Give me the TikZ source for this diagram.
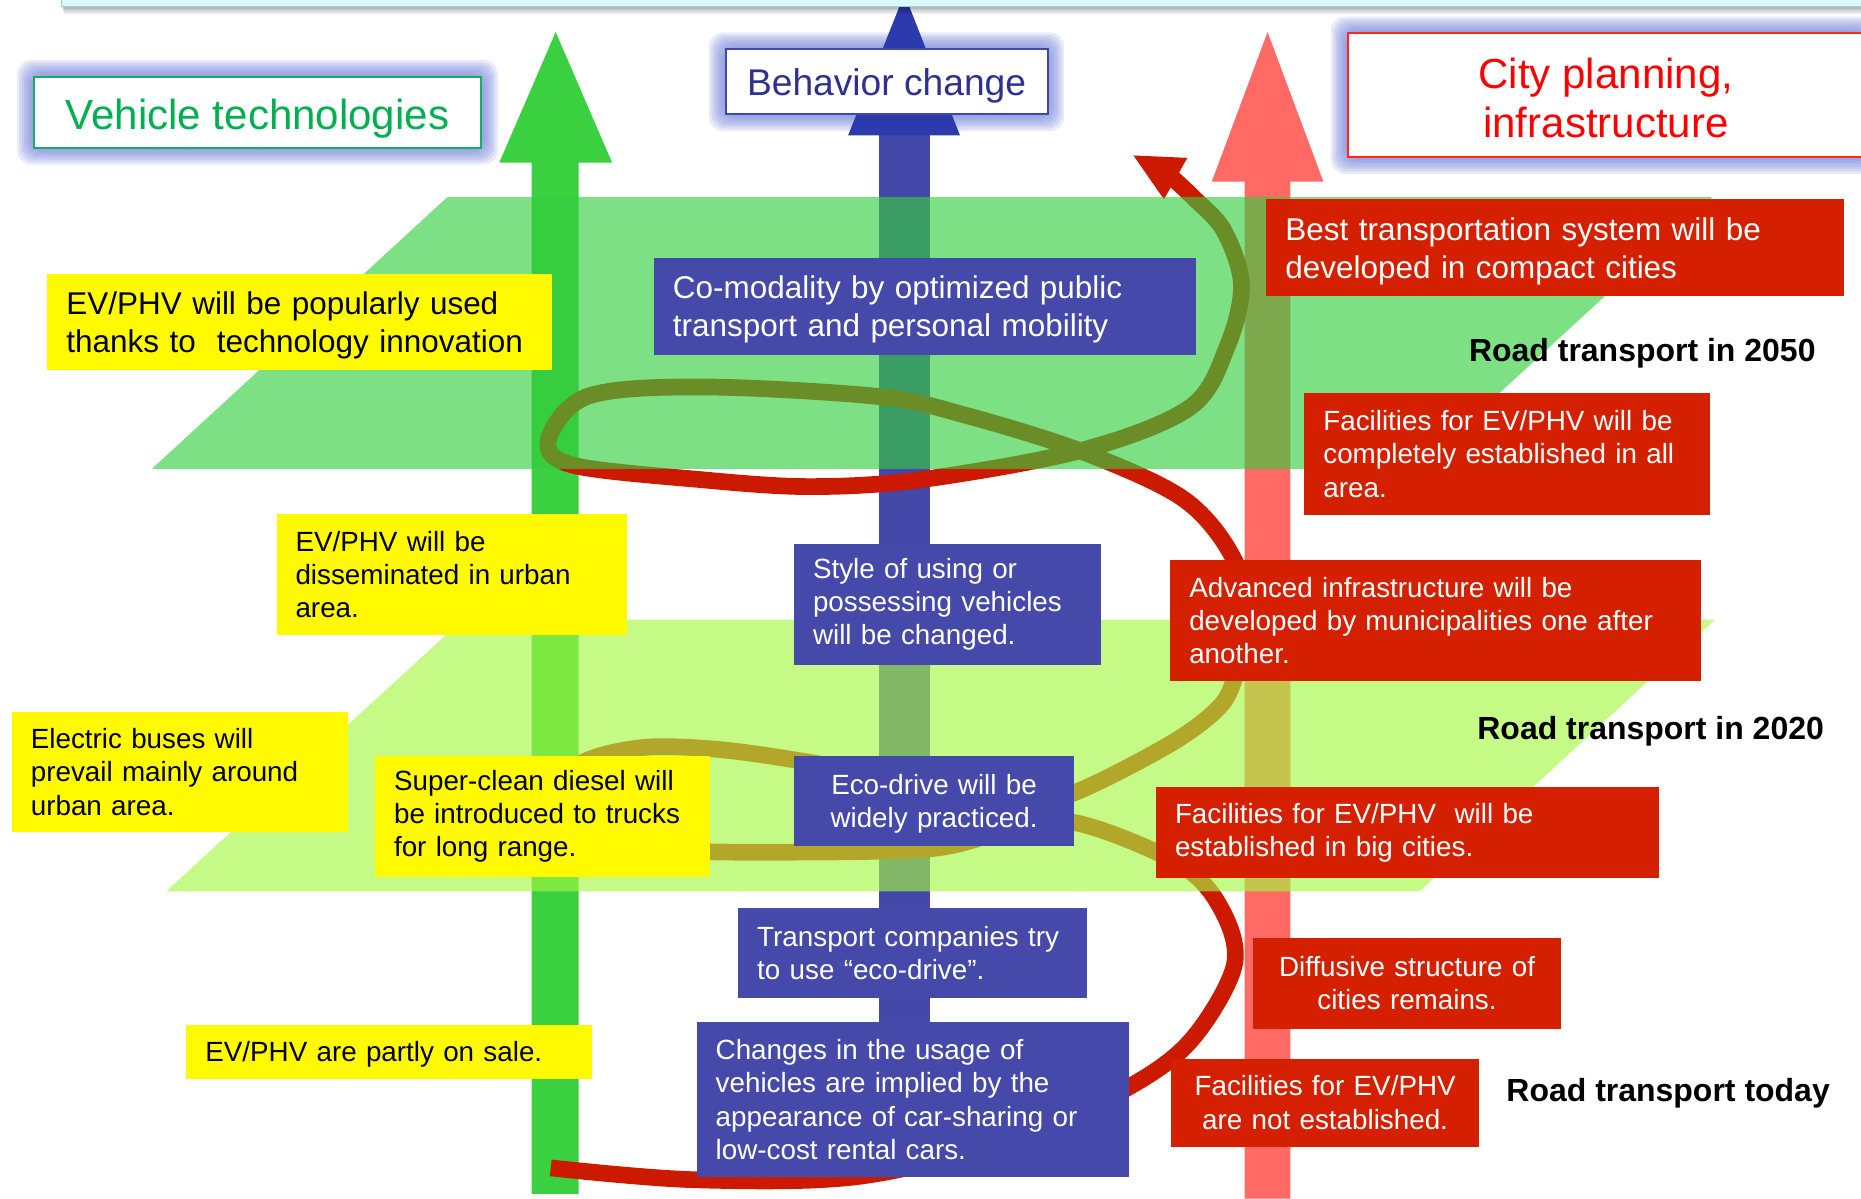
\documentclass[tikz,border=0pt]{standalone}
\usepackage{fontspec}
\setmainfont{Liberation Sans}
\usetikzlibrary{calc}

\definecolor{vehgreen}{RGB}{58,208,64}
\definecolor{behblue}{RGB}{68,72,168}
\definecolor{behhead}{RGB}{43,59,173}
\definecolor{citypink}{RGB}{255,106,101}
\definecolor{evyellow}{RGB}{255,250,0}
\definecolor{useblue}{RGB}{68,73,170}
\definecolor{cityboxred}{RGB}{213,32,0}
\definecolor{spiralred}{RGB}{204,26,0}
\definecolor{plane50}{RGB}{52,206,63}
\definecolor{plane20}{RGB}{165,247,68}
\definecolor{glowblue}{RGB}{110,125,215}
\definecolor{bandcyan}{RGB}{216,250,252}
\definecolor{bandedge}{RGB}{160,210,212}
\definecolor{vehtext}{RGB}{0,176,80}
\definecolor{vehedge}{RGB}{20,176,96}
\definecolor{behtext}{RGB}{46,49,146}
\definecolor{behedge}{RGB}{63,72,170}
\definecolor{citytext}{RGB}{255,0,0}
\definecolor{cityedge}{RGB}{255,40,20}

\newcommand{\fbig}{\fontsize{18.1}{21.9}\selectfont}
\newcommand{\fsmall}{\fontsize{16}{19.1}\selectfont}

\pgfdeclarelayer{glow}
\pgfsetlayers{glow,main}

\tikzset{
    note/.style={anchor=north west, inner xsep=0.384cm, inner ysep=0pt, outer sep=0pt, align=left, font=\fsmall},
    bignote/.style={font=\fbig, text height=17.2pt},
    evnote/.style={note, fill=evyellow, text=black},
    usenote/.style={note, fill=useblue, text=white},
    citynote/.style={note, fill=cityboxred, text=white},
    headbox/.style={draw, line width=1.2pt, fill=white, anchor=north west, inner sep=0pt, outer sep=0pt, align=center, text depth=0pt},
    yearlabel/.style={anchor=east, inner sep=0pt, font=\fontsize{18.4}{22}\selectfont\bfseries},
    layerplane/.style={fill opacity=0.64},
    spiral/.style={draw=spiralred, line width=9.6pt, line join=round},
    glowfill/.style={fill=glowblue, fill opacity=0.16, rounded corners=8pt},
}

\begin{document}
\begin{tikzpicture}[x=0.024cm, y=-0.024cm]
    \useasboundingbox (0,0) rectangle (1568,1010);

    % three pillars
    \fill[vehgreen] (448,1006) -- (448,137) -- (420.7,137) -- (468.2,27) -- (515.7,137) -- (487.5,137) -- (487.5,1006) -- cycle;
    \fill[behblue] (740.6,985) rectangle (783.6,113);
    \fill[behhead] (762,-5) -- (808.8,114) -- (714.6,114) -- cycle;
    \fill[citypink] (1048.7,1010) -- (1048.7,153) -- (1021,153) -- (1068,27) -- (1115,153) -- (1087.2,153) -- (1087.2,1010) -- cycle;

    % spiral from today up to 2050
    \draw[spiral] plot[smooth, tension=0.55] coordinates {
        (464,984) (585,994) (725,991) (860,958) (951,916) (1004,876)
        (1040,813) (1028,764) (992,727) (905,693) (845,701) (785,715)
        (668,718) (560,716) (492,703) (470,672) (490,643) (540,630)
        (600,631) (668,640) (760,657) (850,680) (905,668) (984,628)
        (1024,599) (1039,575) (1050,525) (1040,472) (998,421) (913,381)
        (814,350) (739,334) (589,326) (495,334) (462,371) (483,392)
        (589,404) (682,410) (777,404) (913,379) (1003,343) (1034,292)
        (1046,240) (1031,194) (1005,166) (988,150)};
    \fill[spiralred] (955,131) -- (1000.4,133) -- (980.7,168) -- cycle;

    % road transport levels
    \fill[layerplane, fill=plane50] (377,166) -- (1443,166) -- (1194,395) -- (128,395) -- cycle;
    \fill[layerplane, fill=plane20] (390,522) -- (1445,522) -- (1196,751) -- (140,751) -- cycle;

    % top banner edge
    \foreach \s in {1,...,4}
        \fill[black, fill opacity=0.08] (51.6+\s*0.6,-20) rectangle (1600,5.6+\s*1.6);
    \filldraw[fill=bandcyan, draw=bandedge, line width=0.8pt] (51.6,-20) rectangle (1600,5.6);

    % pillar titles
    \node[headbox, draw=vehedge, text=vehtext, minimum width=9.05cm, minimum height=1.44cm,
        font=\fontsize{24.2}{29}\selectfont, text height=19.8pt] (vehtitle) at (28.4,64.6) {Vehicle technologies};
    \node[headbox, draw=behedge, text=behtext, minimum width=6.51cm, minimum height=1.32cm,
        font=\fontsize{21.4}{26}\selectfont, text height=16.5pt] (behtitle) at (611.4,41.3) {Behavior change};
    \node[headbox, draw=cityedge, text=citytext, minimum width=10.45cm, minimum height=2.51cm,
        font=\fontsize{24.2}{28.4}\selectfont] (citytitle) at (1135.4,28) {\rule{0pt}{20.6pt}City planning,\\infrastructure};

    \begin{pgfonlayer}{glow}
        \foreach \n in {vehtitle,behtitle,citytitle}
            \foreach \r in {2,4,...,14}
                \fill[glowfill] ($(\n.north west)+(-\r,-\r)$) rectangle ($(\n.south east)+(\r,\r)$);
    \end{pgfonlayer}

    % vehicle technologies
    \node[evnote, bignote, text width=9.432cm, minimum height=1.944cm] (evpopular) at (40,231) {EV/PHV will be popularly used\\thanks to~ technology innovation};
    \node[evnote, text width=6.312cm, minimum height=2.448cm] (evurban) at (233,433) {EV/PHV will be\\disseminated in urban\\area.};
    \node[evnote, text width=6.024cm, minimum height=2.424cm] (evbus) at (10,600) {Electric buses will\\prevail mainly around\\urban area.};
    \node[evnote, text width=6.0cm, minimum height=2.448cm] (evdiesel) at (316,637) {Super-clean diesel will\\be introduced to trucks\\for long range.};
    \node[evnote, text width=7.44cm, minimum height=1.08cm, text height=14.4pt] (evsale) at (157,864) {EV/PHV are partly on sale.};

    % behavior change
    \node[usenote, bignote, text width=10.2cm, minimum height=1.968cm] (usecomod) at (551,217) {Co-modality by optimized public\\transport and personal mobility};
    \node[usenote, text width=5.448cm, minimum height=2.448cm] (usestyle) at (669,458) {Style of using or\\possessing vehicles\\will be changed.};
    \node[usenote, align=center, text width=4.896cm, minimum height=1.824cm, text height=15pt] (useeco) at (669,637) {Eco-drive will be\\widely practiced.};
    \node[usenote, text width=6.288cm, minimum height=1.824cm] (usecompany) at (622,765) {Transport companies try\\to use “eco-drive”.};
    \node[usenote, text width=7.968cm, minimum height=3.144cm] (usesharing) at (587,861) {Changes in the usage of\\vehicles are implied by the\\appearance of car-sharing or\\low-cost rental cars.};

    % city planning, infrastructure
    \node[citynote, bignote, text width=10.92cm, minimum height=1.944cm] (citybest) at (1067,168) {Best transportation system will be\\developed in compact cities};
    \node[citynote, text width=7.44cm, minimum height=2.472cm] (cityall) at (1099,331) {Facilities for EV/PHV will be\\completely established in all\\area.};
    \node[citynote, text width=9.96cm, minimum height=2.448cm] (cityadv) at (986,472) {Advanced infrastructure will be\\developed by municipalities one after\\another.};
    \node[citynote, text width=9.408cm, minimum height=1.848cm] (citybig) at (974,663) {Facilities for EV/PHV~ will be\\established in big cities.};
    \node[citynote, align=center, text width=5.448cm, minimum height=1.848cm] (citydiff) at (1056,790) {Diffusive structure of\\cities remains.};
    \node[citynote, align=center, text width=5.448cm, minimum height=1.776cm] (citynone) at (987,892) {Facilities for EV/PHV\\are not established.};

    % level names
    \node[yearlabel] (lbl2050) at (1530,298) {Road transport in 2050};
    \node[yearlabel] (lbl2020) at (1537,616) {Road transport in 2020};
    \node[yearlabel] (lbltoday) at (1542,921) {Road transport today};
\end{tikzpicture}
\end{document}
